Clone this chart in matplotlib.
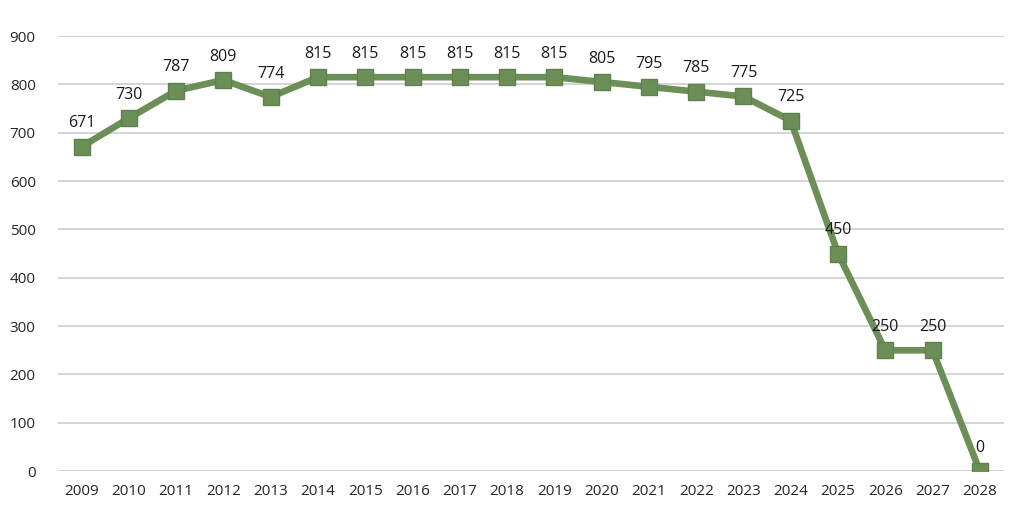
import matplotlib.pyplot as plt

plt.rcParams['font.family'] = ['Open Sans', 'DejaVu Sans']

years = [str(y) for y in range(2009, 2029)]
values = [671, 730, 787, 809, 774, 815, 815, 815, 815, 815, 815,
          805, 795, 785, 775, 725, 450, 250, 250, 0]

fig = plt.figure(figsize=(10.24, 5.3), dpi=100)
ax = fig.add_axes([0.0566, 0.111, 0.9234, 0.821])

x = list(range(len(years)))
ax.plot(x, values, color='#6b8f57', linewidth=4.8, marker='s', markersize=12,
        markerfacecolor='#6b8f57', markeredgecolor='#5f824c', markeredgewidth=1,
        zorder=3, solid_joinstyle='round')

for xi, v in zip(x, values):
    ax.annotate(str(v), (xi, v), xytext=(0, 11), textcoords='offset points',
                ha='center', va='bottom', fontsize=11.5, color='#1a1a1a', zorder=4)

ax.set_xlim(-0.5, len(years) - 0.5)
ax.set_ylim(0, 900)
ax.set_yticks(range(0, 901, 100))
ax.set_xticks(x)
ax.set_xticklabels(years)
ax.yaxis.grid(True, color='#d4d4d4', linewidth=1.4)
ax.set_axisbelow(True)
for s in ax.spines.values():
    s.set_visible(False)
ax.tick_params(length=0, labelsize=11, colors='#262626')
ax.tick_params(axis='y', pad=16)
ax.tick_params(axis='x', pad=9)

fig.savefig('out.png', dpi=100)
